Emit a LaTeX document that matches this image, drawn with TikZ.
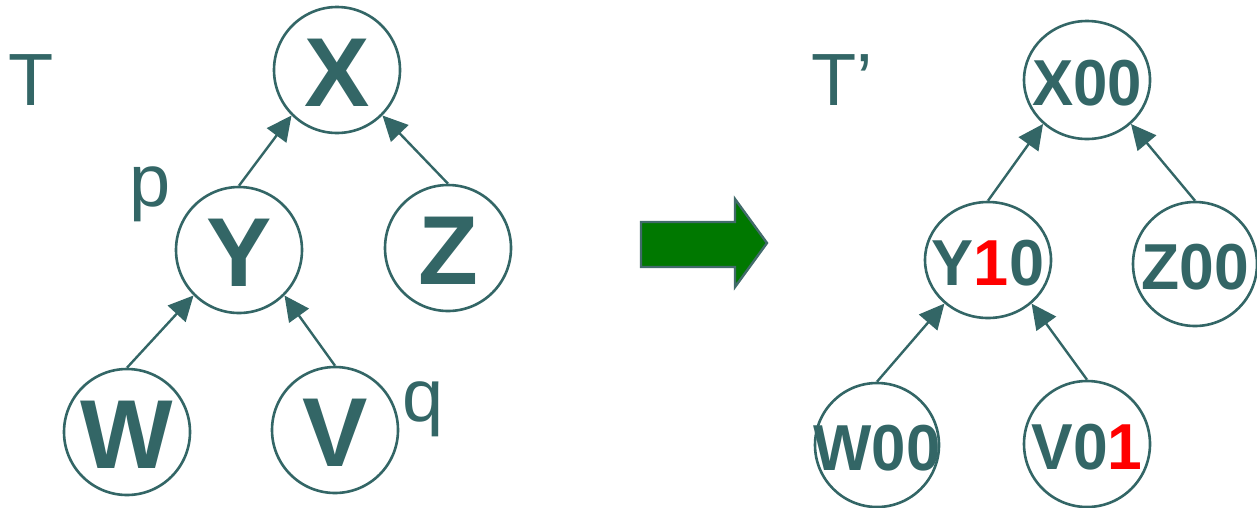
\documentclass[tikz,border=0pt]{standalone}
\usepackage{fontspec}
\setmainfont{Liberation Sans}
\usepackage{graphicx}
\usetikzlibrary{arrows.meta,shapes.geometric}
\definecolor{tealc}{HTML}{336666}
\definecolor{arrgreen}{HTML}{007800}
\definecolor{digred}{HTML}{FF0000}
\begin{document}
\begin{tikzpicture}[x=1pt,y=-1pt,
  nd/.style={circle,draw=tealc,line width=2.6pt,minimum size=126pt,inner sep=0pt},
  ndell/.style={ellipse,draw=tealc,line width=2.6pt,inner sep=0pt},
  big/.style={text=tealc,inner sep=0pt,yshift=-3pt,font=\fontsize{98}{98}\selectfont\bfseries},
  small/.style={text=tealc,inner sep=0pt,yshift=-3pt,font=\fontsize{65}{65}\selectfont\bfseries},
  edge/.style={draw=tealc,line width=2.4pt,-{Triangle[length=25pt,width=24pt]}},
  lab/.style={text=tealc,inner sep=0pt,font=\fontsize{74}{74}\selectfont}]
\useasboundingbox (0,0) rectangle (1257,507);

% left tree
\node[nd,label={[big]center:X}] (x) at (337,70) {};
\node[nd,label={[big]center:Y}] (y) at (239,250) {};
\node[nd,label={[big]center:Z}] (z) at (448,248) {};
\node[nd,label={[big]center:W}] (w) at (127,432) {};
\node[nd,label={[big]center:V}] (v) at (335,430) {};
\draw[edge] (y.north) -- (x.225);
\draw[edge] (z.north) -- (x.315);
\draw[edge] (w.north) -- (y.225);
\draw[edge] (v.north) -- (y.315);

\node[lab,anchor=base] (tl) at (31.5,105) {T};
\node[lab,anchor=base] (pl) at (150,206) {p};
\node[lab,anchor=base] (ql) at (423,421) {q};

% green arrow
\draw[fill=arrgreen,draw=tealc!80!gray,line width=2.4pt,line join=miter]
  (641,222) -- (735,222) -- (735,199) -- (767,243) -- (735,287) -- (735,267) -- (641,267) -- cycle;

% right tree
\node[ndell,minimum width=126pt,minimum height=118pt,
  label={[small]center:\scalebox{0.95}[1]{X00}}] (x2) at (1087,80) {};
\node[ndell,minimum width=126pt,minimum height=116pt,
  label={[small]center:\scalebox{0.97}[1]{Y\textcolor{digred}{1}0}}] (y2) at (988,260) {};
\node[nd,minimum size=124pt,
  label={[small]center:\scalebox{0.96}[1]{Z00}}] (z2) at (1195,264) {};
\node[nd,minimum size=124pt,
  label={[small]center:\scalebox{0.95}[1]{W00}}] (w2) at (877,445) {};
\node[nd,
  label={[small]center:\scalebox{0.96}[1]{V0\textcolor{digred}{1}}}] (v2) at (1087,444) {};
\draw[edge] (y2.north) -- (x2.225);
\draw[edge] (z2.north) -- (x2.315);
\draw[edge] (w2.north) -- (y2.225);
\draw[edge] (v2.north) -- (y2.315);

\node[lab,anchor=base] (tl2) at (842,105) {T’};
\end{tikzpicture}
\end{document}
